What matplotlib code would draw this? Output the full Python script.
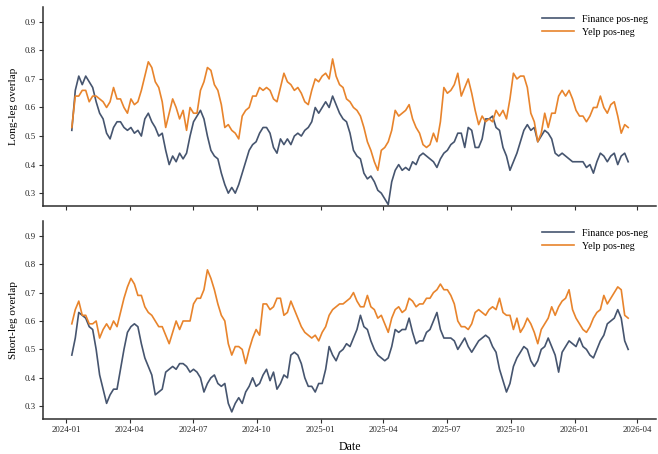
import matplotlib
matplotlib.use("Agg")
import matplotlib.pyplot as plt
import matplotlib.dates as mdates
import pandas as pd

# Sampling dates (every 5 days)
dates = pd.date_range("2024-01-09", periods=161, freq="5D")

# Long-leg overlap
long_finance = [
    0.52, 0.66, 0.71, 0.68, 0.71, 0.69, 0.67, 0.62, 0.58, 0.56, 0.51, 0.49, 0.53, 0.55, 0.55, 0.53,
    0.52, 0.53, 0.51, 0.52, 0.50, 0.56, 0.58, 0.55, 0.53, 0.50, 0.51, 0.45, 0.40, 0.43, 0.41, 0.44,
    0.42, 0.44, 0.50, 0.55, 0.57, 0.59, 0.56, 0.50, 0.45, 0.43, 0.42, 0.37, 0.33, 0.30, 0.32, 0.30,
    0.33, 0.37, 0.41, 0.45, 0.47,
    0.48, 0.51, 0.53, 0.53, 0.51, 0.46, 0.44, 0.49, 0.47, 0.49, 0.47, 0.50, 0.51, 0.50, 0.52, 0.53,
    0.55, 0.60, 0.58, 0.60, 0.62, 0.60, 0.64, 0.61, 0.58, 0.56, 0.55, 0.51, 0.45, 0.43, 0.42, 0.37,
    0.35, 0.36, 0.34, 0.31, 0.30, 0.28, 0.26, 0.34, 0.38, 0.40, 0.38, 0.39, 0.38, 0.41, 0.40, 0.43,
    0.44, 0.43, 0.42, 0.41, 0.39, 0.42, 0.44, 0.45, 0.47, 0.48, 0.51,
    0.51, 0.46, 0.53, 0.52, 0.46, 0.46, 0.49, 0.56, 0.56, 0.57, 0.53, 0.52, 0.46, 0.43, 0.38, 0.41,
    0.44, 0.48, 0.52, 0.54, 0.52, 0.53, 0.48, 0.50, 0.52, 0.51, 0.49, 0.44, 0.43, 0.44, 0.43, 0.42,
    0.41, 0.41, 0.41, 0.41, 0.39, 0.40, 0.37, 0.41, 0.44, 0.43, 0.41, 0.43, 0.44, 0.40, 0.43, 0.44,
    0.41,
]
long_yelp = [
    0.53, 0.64, 0.64, 0.66, 0.66, 0.62, 0.64, 0.64, 0.63, 0.62, 0.60, 0.62, 0.67, 0.63, 0.63, 0.60,
    0.58, 0.63, 0.61, 0.62, 0.66, 0.71, 0.76, 0.74, 0.69, 0.67, 0.62, 0.53, 0.58, 0.63, 0.60, 0.56,
    0.59, 0.52, 0.60, 0.58, 0.58, 0.66, 0.69, 0.74, 0.73, 0.68, 0.66, 0.61, 0.53, 0.54, 0.52, 0.51,
    0.49, 0.57, 0.59, 0.60, 0.64,
    0.64, 0.67, 0.66, 0.67, 0.66, 0.63, 0.62, 0.67, 0.72, 0.69, 0.68, 0.66, 0.67, 0.65, 0.62, 0.61,
    0.66, 0.70, 0.69, 0.71, 0.72, 0.70, 0.77, 0.71, 0.68, 0.67, 0.63, 0.62, 0.60, 0.59, 0.57, 0.53,
    0.48, 0.45, 0.41, 0.38, 0.45, 0.46, 0.48, 0.52, 0.59, 0.57, 0.58, 0.59, 0.61, 0.56, 0.53, 0.51,
    0.47, 0.46, 0.47, 0.51, 0.48, 0.55, 0.67, 0.65, 0.66, 0.68, 0.72,
    0.64, 0.67, 0.70, 0.65, 0.59, 0.54, 0.57, 0.55, 0.56, 0.55, 0.59, 0.57, 0.59, 0.56, 0.63, 0.72,
    0.70, 0.71, 0.71, 0.67, 0.58, 0.55, 0.48, 0.51, 0.58, 0.53, 0.58, 0.58, 0.64, 0.66, 0.64, 0.66,
    0.63, 0.59, 0.57, 0.57, 0.55, 0.57, 0.60, 0.60, 0.64, 0.60, 0.58, 0.61, 0.62, 0.57, 0.51, 0.54,
    0.53,
]

# Short-leg overlap
short_finance = [
    0.48, 0.54, 0.63, 0.62, 0.61, 0.58, 0.57, 0.50, 0.41, 0.36, 0.31, 0.34, 0.36, 0.36, 0.43, 0.50,
    0.56, 0.58, 0.59, 0.58, 0.52, 0.47, 0.44, 0.41, 0.34, 0.35, 0.36, 0.42, 0.43, 0.44, 0.43, 0.45,
    0.45, 0.44, 0.42, 0.43, 0.42, 0.40, 0.35, 0.38, 0.40, 0.41, 0.38, 0.37, 0.38, 0.31, 0.28, 0.31,
    0.33, 0.31, 0.35, 0.37, 0.40,
    0.37, 0.38, 0.41, 0.43, 0.39, 0.42, 0.36, 0.38, 0.41, 0.40, 0.48, 0.49, 0.48, 0.45, 0.40, 0.37,
    0.37, 0.35, 0.38, 0.38, 0.43, 0.51, 0.48, 0.46, 0.49, 0.50, 0.52, 0.51, 0.54, 0.57, 0.62, 0.58,
    0.57, 0.53, 0.50, 0.48, 0.47, 0.46, 0.47, 0.51, 0.57, 0.56, 0.57, 0.57, 0.61, 0.56, 0.52, 0.53,
    0.53, 0.56, 0.57, 0.60, 0.63, 0.57, 0.54, 0.54, 0.54, 0.53, 0.50,
    0.52, 0.54, 0.51, 0.49, 0.51, 0.53, 0.54, 0.55, 0.54, 0.51, 0.49, 0.43, 0.39, 0.35, 0.38, 0.44,
    0.47, 0.49, 0.51, 0.50, 0.46, 0.44, 0.46, 0.50, 0.51, 0.54, 0.51, 0.48, 0.42, 0.49, 0.51, 0.53,
    0.52, 0.51, 0.54, 0.51, 0.50, 0.48, 0.47, 0.50, 0.53, 0.55, 0.59, 0.60, 0.61, 0.64, 0.61, 0.53,
    0.50,
]
short_yelp = [
    0.59, 0.64, 0.67, 0.62, 0.62, 0.59, 0.59, 0.60, 0.54, 0.57, 0.59, 0.57, 0.60, 0.58, 0.63, 0.68,
    0.72, 0.75, 0.73, 0.69, 0.69, 0.65, 0.63, 0.62, 0.60, 0.58, 0.58, 0.55, 0.52, 0.56, 0.60, 0.57,
    0.60, 0.60, 0.60, 0.66, 0.68, 0.68, 0.71, 0.78, 0.75, 0.71, 0.66, 0.62, 0.60, 0.52, 0.48, 0.51,
    0.51, 0.50, 0.45, 0.50, 0.54,
    0.57, 0.55, 0.66, 0.66, 0.64, 0.65, 0.68, 0.68, 0.62, 0.63, 0.67, 0.64, 0.61, 0.58, 0.56, 0.55,
    0.54, 0.55, 0.53, 0.56, 0.58, 0.62, 0.64, 0.65, 0.66, 0.66, 0.67, 0.68, 0.70, 0.67, 0.65, 0.65,
    0.69, 0.65, 0.64, 0.61, 0.62, 0.59, 0.56, 0.61, 0.64, 0.65, 0.63, 0.64, 0.68, 0.67, 0.65, 0.66,
    0.66, 0.68, 0.68, 0.70, 0.71, 0.73, 0.71, 0.71, 0.69, 0.66, 0.60,
    0.58, 0.58, 0.57, 0.59, 0.63, 0.64, 0.63, 0.62, 0.64, 0.65, 0.64, 0.68, 0.63, 0.62, 0.62, 0.57,
    0.61, 0.56, 0.58, 0.61, 0.59, 0.56, 0.52, 0.57, 0.59, 0.61, 0.65, 0.62, 0.65, 0.67, 0.68, 0.71,
    0.64, 0.61, 0.59, 0.57, 0.56, 0.58, 0.61, 0.63, 0.64, 0.69, 0.66, 0.68, 0.70, 0.72, 0.71, 0.62,
    0.61,
]

series_labels = ["Finance pos-neg", "Yelp pos-neg"]
panel_labels = ["Long-leg overlap", "Short-leg overlap"]
yticks = [0.3, 0.4, 0.5, 0.6, 0.7, 0.8, 0.9]

plt.rcParams["font.family"] = ["Liberation Serif", "DejaVu Serif"]

FIN_COLOR = "#46556f"
YELP_COLOR = "#e8842c"
SPINE_COLOR = "#2e2e2e"

W, H = 658, 454
fig = plt.figure(figsize=(W / 100, H / 100), dpi=100)
left, right = 43.3, 656
ax1 = fig.add_axes([left / W, 1 - 206 / H, (right - left) / W, (206 - 6.7) / H])
ax2 = fig.add_axes([left / W, 1 - 419 / H, (right - left) / W, (419 - 220.7) / H],
                   sharex=ax1, sharey=ax1)

panels = [(ax1, long_finance, long_yelp), (ax2, short_finance, short_yelp)]
for (ax, fin, yelp), ylab in zip(panels, panel_labels):
    ax.plot(dates, fin, color=FIN_COLOR, lw=1.2, label=series_labels[0])
    ax.plot(dates, yelp, color=YELP_COLOR, lw=1.2, label=series_labels[1])
    ax.set_ylabel(ylab, fontsize=8, labelpad=5)
    for side in ("top", "right"):
        ax.spines[side].set_visible(False)
    for side in ("left", "bottom"):
        ax.spines[side].set_color(SPINE_COLOR)
        ax.spines[side].set_linewidth(1.1)
    ax.tick_params(axis="both", direction="out", length=2.6, width=0.8,
                   color=SPINE_COLOR, labelsize=6.3, labelcolor="#222222", pad=2.5)
    ax.legend(loc="upper right", frameon=False, fontsize=7.2, handlelength=3.2,
              handletextpad=0.8, labelspacing=0.4, borderaxespad=0.4)

ax1.set_yticks(yticks)
ax1.yaxis.set_major_formatter(matplotlib.ticker.FormatStrFormatter("%.1f"))
ax1.set_ylim(0.255, 0.953)
ax1.set_xlim(pd.Timestamp("2023-11-29"), pd.Timestamp("2026-04-28"))
ax1.xaxis.set_major_locator(mdates.MonthLocator(bymonth=[1, 4, 7, 10]))
ax1.xaxis.set_major_formatter(mdates.DateFormatter("%Y-%m"))
ax1.tick_params(axis="x", labelbottom=False)
ax2.set_xlabel("Date", fontsize=8.5, labelpad=5)

fig.savefig("out.png", dpi=100)
